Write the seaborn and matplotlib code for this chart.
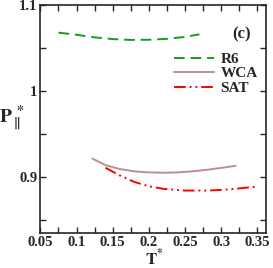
import numpy as np
import pandas as pd
import seaborn as sns
import matplotlib.pyplot as plt
from matplotlib.ticker import MultipleLocator

# values
r6_t = [0.075, 0.10, 0.125, 0.15, 0.175, 0.20, 0.225, 0.25, 0.27]
r6_p = [1.068, 1.0655, 1.0625, 1.0605, 1.0595, 1.0597, 1.0608, 1.0630, 1.0660]

wca_t = [0.122, 0.14, 0.16, 0.18, 0.20, 0.22, 0.24, 0.26, 0.28, 0.30, 0.32]
wca_p = [0.9216, 0.9140, 0.9095, 0.9068, 0.9056, 0.9052, 0.9056, 0.9068, 0.9086, 0.9108, 0.9133]

sat_t = [0.14, 0.16, 0.18, 0.20, 0.22, 0.25, 0.28, 0.30, 0.32, 0.348]
sat_p = [0.911, 0.902, 0.8945, 0.8895, 0.8865, 0.8845, 0.8845, 0.8852, 0.8865, 0.889]

df = pd.concat([
    pd.DataFrame({"T": r6_t, "P": r6_p, "model": "R6"}),
    pd.DataFrame({"T": wca_t, "P": wca_p, "model": "WCA"}),
    pd.DataFrame({"T": sat_t, "P": sat_p, "model": "SAT"}),
])

sns.set_style("ticks")
plt.rcParams["font.family"] = ["Liberation Serif", "DejaVu Serif"]
plt.rcParams["mathtext.fontset"] = "stix"
plt.rcParams["font.weight"] = "bold"

fig, ax = plt.subplots(figsize=(2.73, 2.68), dpi=100)
fig.subplots_adjust(left=0.148, right=0.974, top=0.981, bottom=0.13)

palette = {"R6": "#1a9a1a", "WCA": "#bc8f8f", "SAT": "#ff0000"}
dashes = {"R6": (5.5, 3), "WCA": "", "SAT": (6, 2, 1, 2, 1, 2)}
sns.lineplot(data=df, x="T", y="P", hue="model", style="model",
             palette=palette, dashes=dashes, linewidth=1.4, sort=False,
             estimator=None, ax=ax)

ax.xaxis.set_major_locator(MultipleLocator(0.05))
ax.xaxis.set_minor_locator(MultipleLocator(0.025))
ax.yaxis.set_major_locator(MultipleLocator(0.1))
ax.yaxis.set_minor_locator(MultipleLocator(0.05))
ax.set_xlim(0.05, 0.362)
ax.set_ylim(0.835, 1.1)
ax.set_xticks(ax.get_xticks())
ax.set_yticks(ax.get_yticks())
ax.set_xticklabels([f"{v:g}" for v in ax.get_xticks()], fontweight="bold", fontsize=10.5)
ax.set_yticklabels([f"{v:g}" for v in ax.get_yticks()], fontweight="bold", fontsize=10.5)
ax.set_xlim(0.05, 0.362)
ax.set_ylim(0.835, 1.1)
ax.tick_params(which="both", direction="in", top=True, right=True,
               length=4, width=1, pad=2)
for s in ax.spines.values():
    s.set_linewidth(1.2)

ax.set_xlabel("")
ax.set_ylabel("")
fig.text(0.565, 0.035, r"$\mathbf{T}^{*}$", fontsize=12, ha="center", va="center")
fig.text(0.045, 0.56, r"$\mathbf{P}_{\parallel}^{\ *}$", fontsize=14, ha="center", va="center")

ax.text(0.89, 0.87, "(c)", transform=ax.transAxes, ha="center", va="center",
        fontsize=12, fontweight="bold")

leg = ax.legend(loc="upper right", bbox_to_anchor=(0.99, 0.82), frameon=False,
                handlelength=2.6, handletextpad=0.4, labelspacing=0.05,
                borderaxespad=0, prop={"weight": "bold", "size": 11})

fig.savefig("out.png", dpi=100)
